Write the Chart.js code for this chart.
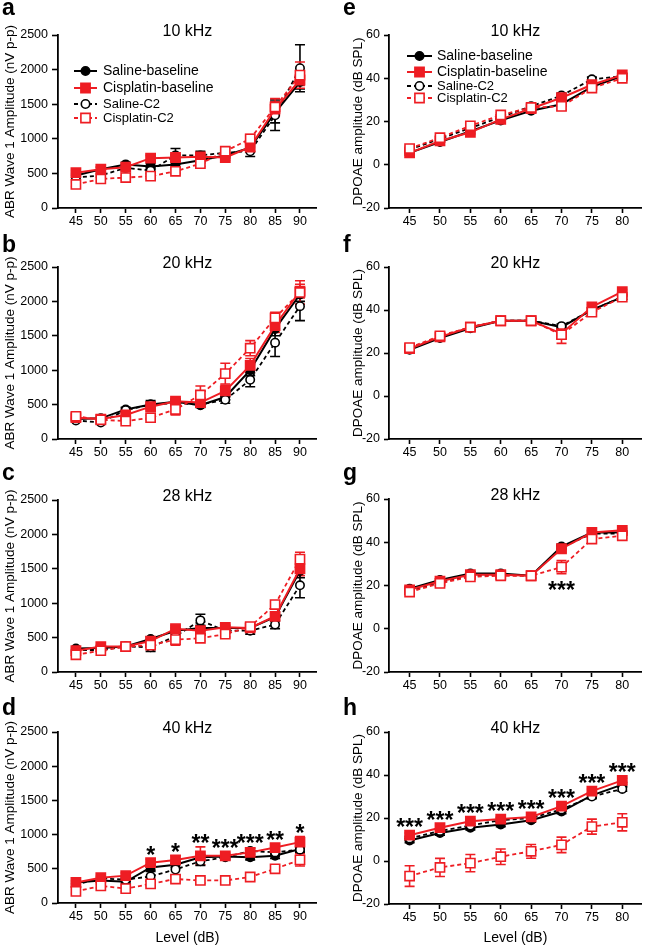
<!DOCTYPE html>
<html lang="en">
<head>
<meta charset="UTF-8">
<title>ABR wave 1 and DPOAE amplitudes</title>
<script src="https://cdn.jsdelivr.net/npm/chart.js"></script>
<style>
  body { margin: 0; background: #fff; }
  #fig { position: relative; width: 650px; height: 947px; overflow: hidden; }
  #fig canvas { position: absolute; }
</style>
</head>
<body>
<div id="fig"></div>
<script>
// ---- data ----
const abrLevels = [45, 50, 55, 60, 65, 70, 75, 80, 85, 90];
const dpLevels = [45, 50, 55, 60, 65, 70, 75, 80];
const seriesNames = ['Saline-baseline', 'Cisplatin-baseline', 'Saline-C2', 'Cisplatin-C2'];

// a: ABR 10 kHz
const abr10SalBase = [470, 560, 630, 600, 630, 690, 760, 870, 1380, 1820];
const abr10CisBase = [510, 560, 590, 720, 730, 740, 730, 880, 1430, 1850];
const abr10SalC2 = [440, 470, 580, 540, 760, 760, 800, 820, 1340, 2020];
const abr10CisC2 = [340, 420, 440, 460, 530, 640, 820, 1000, 1460, 1920];
const abr10SalBaseErr = [30, 30, 30, 40, 50, 40, 40, 60, 150, 100];
const abr10CisBaseErr = [30, 30, 30, 40, 40, 40, 40, 60, 100, 80];
const abr10SalC2Err = [30, 30, 40, 40, 100, 60, 70, 75, 220, 340];
const abr10CisC2Err = [30, 30, 30, 30, 30, 40, 50, 60, 120, 190];

// b: ABR 20 kHz
const abr20SalBase = [290, 300, 430, 500, 540, 490, 610, 1000, 1600, 2100];
const abr20CisBase = [310, 290, 350, 470, 550, 530, 700, 1070, 1650, 2150];
const abr20SalC2 = [270, 240, 420, 500, 520, 500, 570, 860, 1400, 1930];
const abr20CisC2 = [330, 280, 260, 310, 430, 640, 950, 1320, 1760, 2130];
const abr20SalBaseErr = [20, 20, 30, 60, 40, 30, 40, 80, 100, 100];
const abr20CisBaseErr = [20, 20, 30, 40, 40, 40, 80, 100, 100, 100];
const abr20SalC2Err = [20, 20, 30, 40, 40, 30, 50, 100, 200, 210];
const abr20CisC2Err = [20, 20, 30, 30, 80, 130, 150, 110, 80, 170];

// c: ABR 28 kHz
const abr28SalBase = [340, 350, 370, 480, 600, 640, 640, 640, 800, 1470];
const abr28CisBase = [310, 370, 370, 450, 630, 600, 650, 640, 810, 1500];
const abr28SalC2 = [320, 320, 370, 360, 520, 750, 600, 600, 690, 1260];
const abr28CisC2 = [250, 310, 370, 390, 470, 490, 550, 660, 980, 1640];
const abr28SalBaseErr = [20, 20, 20, 30, 40, 40, 30, 40, 60, 100];
const abr28CisBaseErr = [20, 20, 20, 30, 40, 50, 40, 40, 60, 100];
const abr28SalC2Err = [20, 20, 20, 60, 40, 90, 40, 50, 60, 180];
const abr28CisC2Err = [20, 20, 20, 30, 80, 40, 40, 30, 40, 100];

// d: ABR 40 kHz
const abr40SalBase = [300, 330, 310, 520, 560, 670, 680, 670, 690, 790];
const abr40CisBase = [300, 370, 400, 590, 630, 690, 690, 740, 810, 890];
const abr40SalC2 = [270, 360, 340, 390, 490, 610, 670, 760, 740, 780];
const abr40CisC2 = [170, 250, 210, 280, 350, 330, 330, 380, 500, 630];
const abr40SalBaseErr = [20, 20, 30, 40, 40, 40, 30, 40, 40, 40];
const abr40CisBaseErr = [30, 30, 40, 50, 60, 130, 40, 60, 50, 80];
const abr40SalC2Err = [20, 20, 30, 70, 80, 60, 40, 40, 40, 40];
const abr40CisC2Err = [30, 30, 40, 40, 40, 40, 40, 40, 40, 90];
const abr40Stars = ['', '', '', '*', '*', '**', '***', '***', '**', '*'];

// e: DPOAE 10 kHz
const dp10SalBase = [5.5, 10.5, 15.5, 20.5, 25, 28, 36, 41];
const dp10CisBase = [5.5, 11, 15, 21, 26, 31, 37, 41.5];
const dp10SalC2 = [7, 12, 17, 22, 27, 32, 39.5, 41];
const dp10CisC2 = [7.5, 12.5, 18, 23, 26.5, 27, 35.5, 40];
const dp10SalBaseErr = [1, 1, 1, 1, 1, 1, 1, 1];
const dp10CisBaseErr = [1, 1, 1, 1, 1, 1, 1, 1];
const dp10SalC2Err = [1, 1, 1, 1, 1, 1, 1, 1];
const dp10CisC2Err = [1, 1, 1, 1, 1, 1.5, 1, 1];

// f: DPOAE 20 kHz
const dp20SalBase = [21.5, 27, 31.5, 35, 35, 32, 40, 46];
const dp20CisBase = [22, 27.5, 32, 35, 35, 29, 41.5, 48.5];
const dp20SalC2 = [22, 27.5, 32, 35, 35, 32.5, 40, 46];
const dp20CisC2 = [22.5, 28, 32, 35, 35, 28.5, 39, 46];
const dp20SalBaseErr = [1, 1, 1, 1, 1, 1, 1, 1];
const dp20CisBaseErr = [1, 1, 1, 1, 1, 2.5, 1, 1];
const dp20SalC2Err = [1, 1, 1, 1, 1, 1, 1, 1];
const dp20CisC2Err = [1, 1, 1, 1, 1, 4, 1, 1];

// g: DPOAE 28 kHz
const dp28SalBase = [18.5, 22.5, 25.5, 25.5, 24.5, 38, 44.5, 44.5];
const dp28CisBase = [18, 22, 25, 25, 24.5, 37, 44.5, 45.5];
const dp28SalC2 = [17.5, 21.5, 24.5, 25, 24.5, 37.5, 44, 44];
const dp28CisC2 = [17, 21, 24, 24.5, 24.5, 28.5, 41.5, 43];
const dp28SalBaseErr = [1, 1, 1, 1, 1, 1, 1, 1];
const dp28CisBaseErr = [1, 1, 1, 1, 1, 1.5, 1, 1];
const dp28SalC2Err = [1, 1, 1, 1, 1, 1, 1, 1];
const dp28CisC2Err = [1, 1, 1, 1, 1, 3, 1.5, 1];
const dp28Stars = ['', '', '', '', '', '***', '', ''];

// h: DPOAE 40 kHz
const dp40SalBase = [9.5, 13, 15.5, 17, 19, 23, 30.5, 35.5];
const dp40CisBase = [12, 15.5, 18.5, 19.5, 20.5, 25.5, 32.5, 37.5];
const dp40SalC2 = [10.5, 14, 16.5, 19, 20, 24, 30, 33.5];
const dp40CisC2 = [-7, -3, -1, 2, 4.5, 7.5, 16, 18];
const dp40SalBaseErr = [1, 1, 1, 1, 1, 1, 1, 1];
const dp40CisBaseErr = [1, 1, 1, 1, 1, 1, 1, 1];
const dp40SalC2Err = [1, 1, 1, 1, 1, 1, 1, 1];
const dp40CisC2Err = [4.8, 4.2, 4, 3.6, 3.2, 3.6, 3.5, 4];
const dp40Stars = ['***', '***', '***', '***', '***', '***', '***', '***'];

// ---- styling ----
const RED = '#ee1d23';
const FONT = '"Liberation Sans", Arial, Helvetica, sans-serif';
Chart.defaults.font.family = FONT;
Chart.defaults.color = '#000';

const styles = [
  { color: '#000', dash: [], shape: 'circle', fill: '#000', order: 3 },
  { color: RED, dash: [], shape: 'rect', fill: RED, order: 1 },
  { color: '#000', dash: [4, 3], shape: 'circle', fill: '#fff', order: 2 },
  { color: RED, dash: [4, 3], shape: 'rect', fill: '#fff', order: 0 }
];

const rowTop = [0, 230, 460, 690];
const chartTop = [[35, 37, 40, 42], [35, 37, 39, 42]];
const chartBot = [[208, 209, 212, 213], [208, 209, 212, 214]];
const letterBase = [15, 22, 20, 25];

function drawMarker(ctx, st, x, y) {
  ctx.save();
  ctx.setLineDash([]);
  ctx.lineWidth = 1.6;
  ctx.strokeStyle = st.color;
  ctx.fillStyle = st.fill;
  ctx.beginPath();
  if (st.shape === 'circle') ctx.arc(x, y, 4.2, 0, Math.PI * 2);
  else ctx.rect(x - 4.6, y - 4.6, 9.2, 9.2);
  ctx.fill();
  ctx.stroke();
  ctx.restore();
}

const decor = {
  id: 'decor',
  beforeDatasetsDraw(chart) {
    const ctx = chart.ctx, ys = chart.scales.y;
    chart.data.datasets.forEach((ds, i) => {
      const meta = chart.getDatasetMeta(i);
      ctx.save();
      ctx.strokeStyle = ds.borderColor;
      ctx.lineWidth = 1.6;
      meta.data.forEach((pt, j) => {
        const e = ds.errors[j];
        if (!e) return;
        const t = ys.getPixelForValue(ds.data[j].y + e);
        const b = ys.getPixelForValue(ds.data[j].y - e);
        ctx.beginPath();
        ctx.moveTo(pt.x, t); ctx.lineTo(pt.x, b);
        ctx.moveTo(pt.x - 5, t); ctx.lineTo(pt.x + 5, t);
        ctx.moveTo(pt.x - 5, b); ctx.lineTo(pt.x + 5, b);
        ctx.stroke();
      });
      ctx.restore();
    });
  },
  afterDatasetsDraw(chart, args, o) {
    if (!o.stars) return;
    const ctx = chart.ctx, xs = chart.scales.x, ys = chart.scales.y;
    const sets = chart.data.datasets;
    ctx.save();
    ctx.fillStyle = '#000';
    ctx.font = 'bold 23px ' + FONT;
    ctx.textAlign = 'center';
    ctx.textBaseline = 'alphabetic';
    o.levels.forEach((lv, j) => {
      const s = o.stars[j];
      if (!s) return;
      let yc;
      if (o.starSide === 'below') {
        yc = -Infinity;
        sets.forEach(ds => {
          yc = Math.max(yc, ys.getPixelForValue(ds.data[j].y - ds.errors[j]) + 11,
            ys.getPixelForValue(ds.data[j].y) + 16);
        });
      } else {
        yc = Infinity;
        sets.forEach(ds => {
          yc = Math.min(yc, ys.getPixelForValue(ds.data[j].y + ds.errors[j]) - 9,
            ys.getPixelForValue(ds.data[j].y) - 13);
        });
      }
      ctx.fillText(s, xs.getPixelForValue(lv), yc + 13);
    });
    ctx.restore();
  },
  afterDraw(chart, args, o) {
    const ctx = chart.ctx, area = chart.chartArea;
    ctx.save();
    ctx.fillStyle = '#000';
    ctx.textBaseline = 'alphabetic';
    ctx.textAlign = 'left';
    ctx.font = 'bold 23px ' + FONT;
    ctx.fillText(o.letter, o.letterX, o.letterY);
    ctx.font = '16px ' + FONT;
    ctx.textAlign = 'center';
    ctx.textBaseline = 'middle';
    ctx.fillText(o.title, (area.left + area.right) / 2, area.top - 3);
    if (o.legend) {
      const L = o.legend;
      styles.forEach((st, k) => {
        const y = L.rows[k];
        ctx.save();
        ctx.strokeStyle = st.color;
        ctx.lineWidth = 2;
        ctx.setLineDash(st.dash);
        ctx.beginPath();
        ctx.moveTo(L.x0, y); ctx.lineTo(L.x1, y);
        ctx.stroke();
        ctx.restore();
        drawMarker(ctx, st, (L.x0 + L.x1) / 2, y);
        ctx.font = (k < 2 ? '14px ' : '13px ') + FONT;
        ctx.textAlign = 'left';
        ctx.textBaseline = 'middle';
        ctx.fillText(seriesNames[k], L.textX, y + 0.5);
      });
    }
    ctx.restore();
  }
};

function makePanel(p) {
  const col = p.col, row = p.row;
  const top = chartTop[col][row], bot = chartBot[col][row];
  const last = row === 3;
  const height = last ? 257 : bot + 26;
  const cv = document.createElement('canvas');
  cv.width = 325; cv.height = height;
  cv.style.left = (col * 325) + 'px';
  cv.style.top = rowTop[row] + 'px';
  document.getElementById('fig').appendChild(cv);

  const abr = p.kind === 'abr';
  const levels = abr ? abrLevels : dpLevels;
  const padL = col === 0 ? 0 : 23;
  const axisX = col === 0 ? 58 : 64;
  const padR = col === 0 ? 7 : 3;

  const datasets = p.series.map((s, k) => ({
    label: seriesNames[k],
    data: levels.map((lv, j) => ({ x: lv, y: s[0][j] })),
    errors: s[1],
    order: styles[k].order,
    borderColor: styles[k].color,
    borderWidth: styles[k].dash.length ? 1.8 : 2,
    borderDash: styles[k].dash,
    pointStyle: styles[k].shape,
    pointRadius: styles[k].shape === 'circle' ? 4.2 : 6.5,
    pointBorderWidth: 1.6,
    pointBorderColor: styles[k].color,
    pointBackgroundColor: styles[k].fill,
    tension: 0,
    fill: false,
    clip: false
  }));

  const tickFont = { size: 12.5, family: FONT };
  new Chart(cv, {
    type: 'line',
    data: { datasets },
    plugins: [decor],
    options: {
      responsive: false,
      animation: false,
      events: [],
      layout: { padding: { left: padL, right: padR, top: top, bottom: 0 } },
      plugins: {
        legend: { display: false },
        tooltip: { enabled: false },
        decor: {
          letter: p.letter, letterX: col === 0 ? 2 : 18, letterY: letterBase[row],
          title: p.title, legend: p.legend, stars: p.stars, starSide: p.starSide, levels
        }
      },
      scales: {
        x: {
          type: 'linear',
          min: abr ? 41.4 : 41.61,
          max: abr ? 93.4 : 83.23,
          afterBuildTicks: s => { s.ticks = levels.map(v => ({ value: v })); },
          afterFit: s => { s.height = height - bot; },
          ticks: { font: tickFont, color: '#000', padding: 1, maxRotation: 0, autoSkip: false, callback: v => String(v) },
          grid: { display: true, drawOnChartArea: false, drawTicks: true, tickLength: 5, tickColor: '#000', tickWidth: 1.6 },
          border: { display: true, color: '#000', width: 1.8 },
          title: { display: last, text: 'Level (dB)', color: '#000', font: { size: 14, family: FONT }, padding: { top: 0, bottom: 0 } }
        },
        y: {
          min: abr ? 0 : -20,
          max: abr ? 2500 : 60,
          afterFit: s => { s.width = axisX - padL; },
          ticks: { stepSize: abr ? 500 : 20, font: tickFont, color: '#000', padding: 4, callback: v => String(v) },
          grid: { display: true, drawOnChartArea: false, drawTicks: true, tickLength: abr ? 6 : 5, tickColor: '#000', tickWidth: 1.6 },
          border: { display: true, color: '#000', width: 1.8 },
          title: {
            display: true,
            text: abr ? 'ABR Wave 1 Amplitude (nV p-p)' : 'DPOAE amplitude (dB SPL)',
            color: '#000', font: { size: 13.5, family: FONT }, padding: { top: 2, bottom: 0 }
          }
        }
      }
    }
  });
}

makePanel({ col: 0, row: 0, kind: 'abr', letter: 'a', title: '10 kHz',
  series: [[abr10SalBase, abr10SalBaseErr], [abr10CisBase, abr10CisBaseErr], [abr10SalC2, abr10SalC2Err], [abr10CisC2, abr10CisC2Err]],
  legend: { x0: 74, x1: 97, textX: 103, rows: [71, 88, 104, 118] } });
makePanel({ col: 0, row: 1, kind: 'abr', letter: 'b', title: '20 kHz',
  series: [[abr20SalBase, abr20SalBaseErr], [abr20CisBase, abr20CisBaseErr], [abr20SalC2, abr20SalC2Err], [abr20CisC2, abr20CisC2Err]] });
makePanel({ col: 0, row: 2, kind: 'abr', letter: 'c', title: '28 kHz',
  series: [[abr28SalBase, abr28SalBaseErr], [abr28CisBase, abr28CisBaseErr], [abr28SalC2, abr28SalC2Err], [abr28CisC2, abr28CisC2Err]] });
makePanel({ col: 0, row: 3, kind: 'abr', letter: 'd', title: '40 kHz',
  series: [[abr40SalBase, abr40SalBaseErr], [abr40CisBase, abr40CisBaseErr], [abr40SalC2, abr40SalC2Err], [abr40CisC2, abr40CisC2Err]],
  stars: abr40Stars, starSide: 'above' });
makePanel({ col: 1, row: 0, kind: 'dp', letter: 'e', title: '10 kHz',
  series: [[dp10SalBase, dp10SalBaseErr], [dp10CisBase, dp10CisBaseErr], [dp10SalC2, dp10SalC2Err], [dp10CisC2, dp10CisC2Err]],
  legend: { x0: 82, x1: 107, textX: 112, rows: [56, 72, 86, 98] } });
makePanel({ col: 1, row: 1, kind: 'dp', letter: 'f', title: '20 kHz',
  series: [[dp20SalBase, dp20SalBaseErr], [dp20CisBase, dp20CisBaseErr], [dp20SalC2, dp20SalC2Err], [dp20CisC2, dp20CisC2Err]] });
makePanel({ col: 1, row: 2, kind: 'dp', letter: 'g', title: '28 kHz',
  series: [[dp28SalBase, dp28SalBaseErr], [dp28CisBase, dp28CisBaseErr], [dp28SalC2, dp28SalC2Err], [dp28CisC2, dp28CisC2Err]],
  stars: dp28Stars, starSide: 'below' });
makePanel({ col: 1, row: 3, kind: 'dp', letter: 'h', title: '40 kHz',
  series: [[dp40SalBase, dp40SalBaseErr], [dp40CisBase, dp40CisBaseErr], [dp40SalC2, dp40SalC2Err], [dp40CisC2, dp40CisC2Err]],
  stars: dp40Stars, starSide: 'above' });
</script>
</body>
</html>
